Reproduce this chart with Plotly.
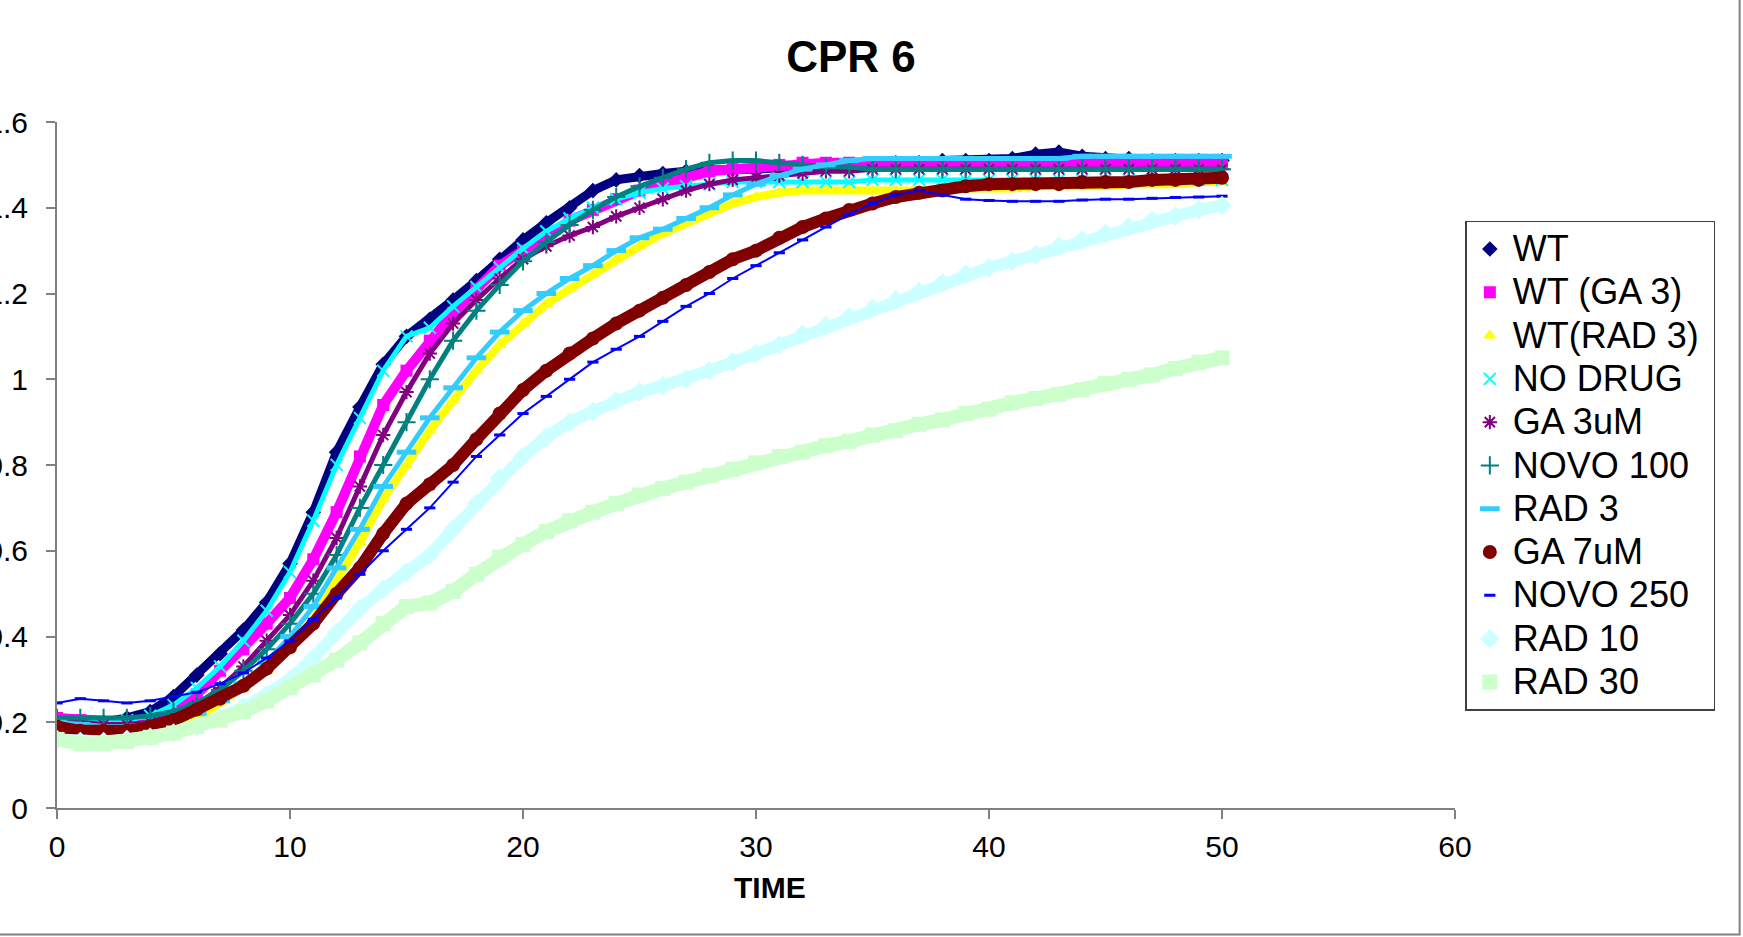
import plotly.graph_objects as go

# ---------------- data ----------------
time = list(range(0, 51))

series_names = ["WT", "WT (GA 3)", "WT(RAD 3)", "NO DRUG", "GA 3uM", "NOVO 100",
                "RAD 3", "GA 7uM", "NOVO 250", "RAD 10", "RAD 30"]

wt = [0.20, 0.20, 0.20, 0.21, 0.225, 0.26, 0.31, 0.36, 0.415, 0.48,
      0.57, 0.69, 0.83, 0.935, 1.035, 1.10, 1.14, 1.185, 1.23, 1.28,
      1.325, 1.365, 1.40, 1.44, 1.465, 1.475, 1.48, 1.485, 1.49, 1.49,
      1.49, 1.495, 1.495, 1.50, 1.50, 1.50, 1.505, 1.505, 1.51, 1.51,
      1.51, 1.515, 1.525, 1.53, 1.52, 1.515, 1.515, 1.51, 1.51, 1.51, 1.51]
wt_ga3 = [0.21, 0.205, 0.20, 0.20, 0.205, 0.23, 0.265, 0.32, 0.37, 0.43,
          0.49, 0.58, 0.69, 0.82, 0.94, 1.02, 1.09, 1.155, 1.21, 1.265,
          1.30, 1.33, 1.37, 1.395, 1.42, 1.44, 1.455, 1.47, 1.485, 1.49,
          1.495, 1.50, 1.505, 1.505, 1.505, 1.505, 1.505, 1.505, 1.505, 1.505,
          1.505, 1.505, 1.505, 1.505, 1.505, 1.505, 1.505, 1.505, 1.505, 1.505, 1.505]
wt_rad3 = [0.19, 0.185, 0.18, 0.18, 0.185, 0.195, 0.21, 0.245, 0.28, 0.32,
           0.37, 0.44, 0.53, 0.62, 0.72, 0.80, 0.88, 0.95, 1.02, 1.08,
           1.13, 1.175, 1.21, 1.245, 1.28, 1.31, 1.34, 1.365, 1.39, 1.41,
           1.425, 1.435, 1.44, 1.44, 1.44, 1.44, 1.44, 1.44, 1.445, 1.445,
           1.445, 1.445, 1.45, 1.45, 1.45, 1.45, 1.455, 1.455, 1.455, 1.46, 1.46]
no_drug = [0.20, 0.20, 0.20, 0.205, 0.215, 0.24, 0.28, 0.33, 0.39, 0.46,
           0.55, 0.67, 0.80, 0.91, 1.02, 1.10, 1.12, 1.17, 1.215, 1.26,
           1.305, 1.345, 1.375, 1.40, 1.42, 1.435, 1.445, 1.45, 1.455, 1.46,
           1.46, 1.46, 1.46, 1.46, 1.46, 1.465, 1.465, 1.465, 1.465, 1.465,
           1.465, 1.465, 1.465, 1.465, 1.465, 1.465, 1.465, 1.465, 1.465, 1.465, 1.465]
ga_3um = [0.20, 0.20, 0.195, 0.195, 0.20, 0.215, 0.24, 0.28, 0.33, 0.39,
          0.45, 0.53, 0.63, 0.75, 0.87, 0.97, 1.06, 1.13, 1.185, 1.235,
          1.28, 1.31, 1.335, 1.355, 1.38, 1.40, 1.42, 1.44, 1.455, 1.465,
          1.47, 1.475, 1.48, 1.485, 1.485, 1.49, 1.49, 1.49, 1.49, 1.49,
          1.49, 1.49, 1.49, 1.49, 1.49, 1.49, 1.49, 1.49, 1.49, 1.49, 1.49]
novo_100 = [0.21, 0.21, 0.21, 0.21, 0.215, 0.225, 0.245, 0.275, 0.32, 0.37,
            0.43, 0.50, 0.59, 0.70, 0.80, 0.90, 1.00, 1.09, 1.16, 1.22,
            1.275, 1.32, 1.36, 1.395, 1.425, 1.45, 1.47, 1.49, 1.505, 1.51,
            1.51, 1.505, 1.50, 1.495, 1.495, 1.49, 1.49, 1.49, 1.49, 1.49,
            1.49, 1.49, 1.49, 1.49, 1.49, 1.49, 1.49, 1.49, 1.49, 1.49, 1.49]
rad_3 = [0.20, 0.195, 0.19, 0.19, 0.195, 0.205, 0.22, 0.25, 0.29, 0.34,
         0.40, 0.47, 0.56, 0.65, 0.75, 0.83, 0.91, 0.98, 1.05, 1.11,
         1.16, 1.20, 1.235, 1.265, 1.30, 1.33, 1.35, 1.375, 1.40, 1.43,
         1.455, 1.475, 1.49, 1.50, 1.51, 1.515, 1.515, 1.515, 1.515, 1.515,
         1.515, 1.515, 1.515, 1.515, 1.52, 1.52, 1.52, 1.52, 1.52, 1.52, 1.52]
ga_7um = [0.19, 0.18, 0.18, 0.18, 0.19, 0.205, 0.23, 0.255, 0.285, 0.325,
          0.375, 0.43, 0.50, 0.56, 0.64, 0.71, 0.755, 0.80, 0.86, 0.92,
          0.975, 1.02, 1.06, 1.095, 1.13, 1.16, 1.19, 1.22, 1.25, 1.28,
          1.30, 1.33, 1.355, 1.375, 1.395, 1.41, 1.425, 1.435, 1.44, 1.45,
          1.455, 1.455, 1.455, 1.455, 1.46, 1.46, 1.46, 1.465, 1.465, 1.465, 1.47]
novo_250 = [0.245, 0.255, 0.25, 0.245, 0.25, 0.26, 0.27, 0.29, 0.315, 0.35,
            0.39, 0.44, 0.49, 0.545, 0.60, 0.65, 0.70, 0.76, 0.82, 0.87,
            0.92, 0.96, 1.00, 1.04, 1.07, 1.10, 1.135, 1.17, 1.20, 1.235,
            1.265, 1.295, 1.325, 1.355, 1.385, 1.41, 1.43, 1.44, 1.43, 1.42,
            1.417, 1.415, 1.415, 1.415, 1.418, 1.42, 1.42, 1.422, 1.424, 1.425, 1.427]
rad_10 = [0.16, 0.155, 0.155, 0.16, 0.165, 0.175, 0.19, 0.21, 0.235, 0.265,
          0.30, 0.35, 0.41, 0.465, 0.51, 0.55, 0.59, 0.65, 0.71, 0.77,
          0.82, 0.865, 0.90, 0.925, 0.95, 0.97, 0.985, 1.00, 1.02, 1.04,
          1.06, 1.08, 1.105, 1.125, 1.145, 1.165, 1.185, 1.205, 1.225, 1.245,
          1.26, 1.275, 1.29, 1.31, 1.325, 1.34, 1.355, 1.37, 1.38, 1.395, 1.405]
rad_30 = [0.16, 0.15, 0.15, 0.155, 0.165, 0.175, 0.19, 0.205, 0.225, 0.25,
          0.28, 0.31, 0.345, 0.385, 0.43, 0.47, 0.478, 0.505, 0.545, 0.585,
          0.615, 0.645, 0.67, 0.69, 0.71, 0.73, 0.745, 0.76, 0.775, 0.79,
          0.805, 0.82, 0.83, 0.845, 0.855, 0.87, 0.88, 0.895, 0.905, 0.92,
          0.93, 0.945, 0.955, 0.965, 0.975, 0.99, 1.00, 1.01, 1.025, 1.04, 1.05]

x_ticks = [0, 10, 20, 30, 40, 50, 60]
y_ticks = [0, 0.2, 0.4, 0.6, 0.8, 1.0, 1.2, 1.4, 1.6]

# ---------------- styles ----------------
all_values = [wt, wt_ga3, wt_rad3, no_drug, ga_3um, novo_100, rad_3, ga_7um, novo_250, rad_10, rad_30]
styles = [
    dict(color="#000080", symbol="diamond", size=12, mlw=0, lw=9),
    dict(color="#FF00FF", symbol="square", size=12, mlw=0, lw=10),
    dict(color="#FFFF00", symbol="triangle-up", size=12, mlw=0, lw=8),
    dict(color="#00FFFF", symbol="x-thin", size=12, mlw=2, lw=5),
    dict(color="#800080", symbol="asterisk", size=12, mlw=2, lw=5),
    dict(color="#008080", symbol="cross-thin", size=13, mlw=2, lw=5),
    dict(color="#33CCFF", symbol="line-ew", size=14, mlw=5, lw=5),
    dict(color="#800000", symbol="circle", size=14, mlw=0, lw=12),
    dict(color="#0000FF", symbol="line-ew", size=8, mlw=3, lw=2),
    dict(color="#CCFFFF", symbol="diamond", size=15, mlw=0, lw=12),
    dict(color="#CCFFCC", symbol="square", size=15, mlw=0, lw=14),
]

FONT = "Liberation Sans, Arial, sans-serif"

fig = go.Figure()
for name, vals, st in zip(series_names, all_values, styles):
    fig.add_trace(go.Scatter(
        x=time, y=vals, mode="lines", showlegend=False, legendgroup=name,
        line=dict(color=st["color"], width=st["lw"]), hoverinfo="skip"))
    fig.add_trace(go.Scatter(
        x=time, y=vals, mode="markers", legendgroup=name,
        name='<span style="font-size:36px">' + name + "&nbsp;</span>",
        marker=dict(symbol=st["symbol"], size=st["size"], color=st["color"],
                    line=dict(color=st["color"], width=st["mlw"]))))

axis_common = dict(
    showgrid=False, zeroline=False, showline=True, linecolor="#808080", linewidth=2,
    ticks="outside", ticklen=9, tickwidth=1.5, tickcolor="#808080",
    tickfont=dict(family=FONT, size=30, color="black"), automargin=False,
)

fig.update_layout(
    width=1743, height=937, autosize=False,
    margin=dict(l=57, r=288, t=122, b=129),
    paper_bgcolor="white", plot_bgcolor="white",
    title=dict(text="CPR 6", x=851 / 1743, xanchor="center", y=1 - 56.5 / 937, yanchor="middle",
               font=dict(family=FONT, size=44, color="black", weight="bold")),
    xaxis=dict(range=[0, 60], tickvals=x_ticks, ticklabelstandoff=2, **axis_common),
    yaxis=dict(range=[0, 1.6], tickvals=y_ticks, ticklabelstandoff=12, **axis_common),
    legend=dict(x=1.0074, xanchor="left", y=0.856, yanchor="top",
                bordercolor="#404040", borderwidth=1.5, bgcolor="white",
                font=dict(family=FONT, size=31, color="black"),
                itemwidth=36, traceorder="normal"),
    annotations=[dict(text="TIME", xref="paper", yref="paper", x=0.5097, y=-0.1158,
                      xanchor="center", yanchor="middle", showarrow=False,
                      font=dict(family=FONT, size=30, color="black", weight="bold"))],
    shapes=[dict(type="rect", xref="paper", yref="paper", x0=-0.1, x1=1.2036,
                 y0=-0.1845, y1=1.3, line=dict(color="#808080", width=2),
                 fillcolor="rgba(0,0,0,0)", layer="below")],
)

fig.write_html("out.html")
